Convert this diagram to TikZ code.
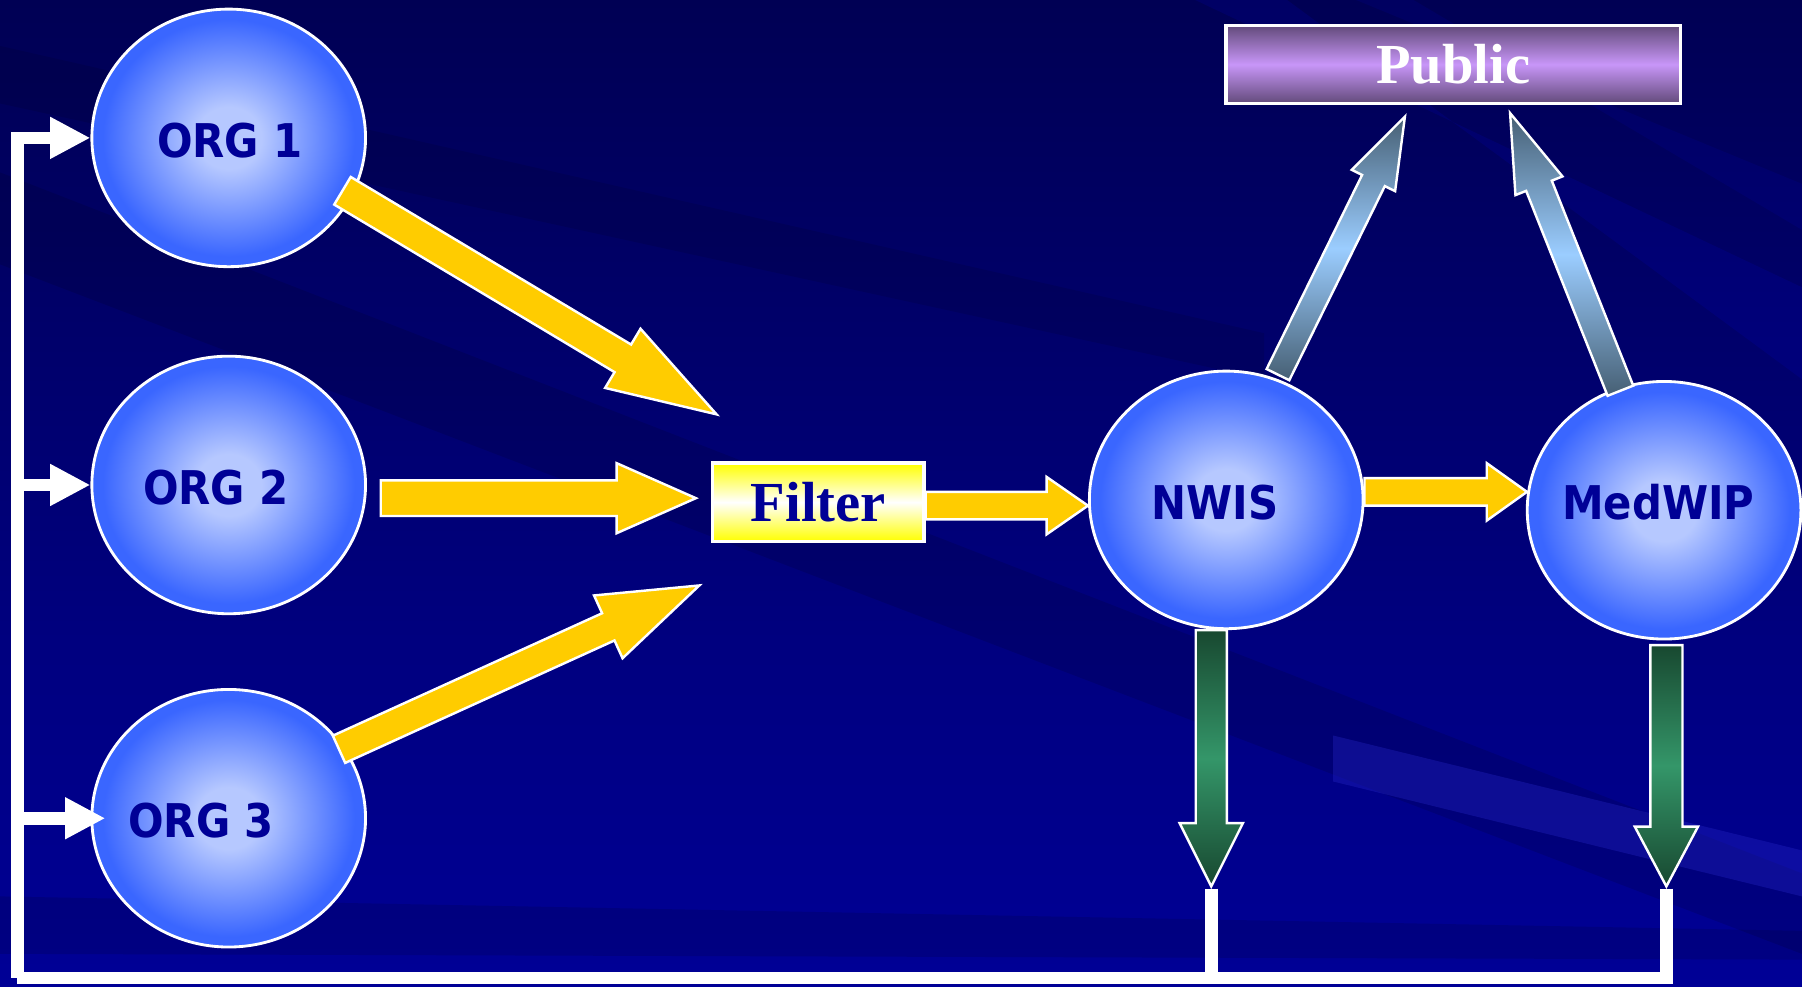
\documentclass[tikz,border=0pt]{standalone}
\usepackage{fontspec}
\setmainfont{Liberation Serif}
\newfontfamily\orgfont{DejaVu Sans Condensed}
\usetikzlibrary{calc,shapes.geometric,arrows.meta}
\definecolor{bgtop}{RGB}{0,0,84}
\definecolor{bgbot}{RGB}{0,0,150}
\definecolor{ballin}{RGB}{182,200,255}
\definecolor{ballout}{RGB}{58,102,255}
\definecolor{orgtxt}{RGB}{0,0,150}
\definecolor{ylw}{RGB}{255,204,0}
\definecolor{ylwbox}{RGB}{255,255,0}
\definecolor{pubdark}{RGB}{98,74,122}
\definecolor{publight}{RGB}{200,150,248}
\definecolor{slatedark}{RGB}{70,95,115}
\definecolor{slatelight}{RGB}{155,205,255}
\definecolor{grdark}{RGB}{24,72,48}
\definecolor{grlight}{RGB}{52,150,105}
\definecolor{bandlight}{RGB}{40,40,200}
\pgfdeclareradialshading{ball}{\pgfpoint{0bp}{0bp}}{color(0bp)=(ballin); color(6bp)=(ballin); color(23bp)=(ballout); color(50bp)=(ballout)}
\newcommand\blockarrow[6]{%
  \coordinate (ba-b) at ($(#3)!#6!(#2)$);
  \path[#1] ($(#2)!#4!90:(#3)$) -- ($(ba-b)!#4!-90:(#2)$) -- ($(ba-b)!#5!-90:(#2)$)
    -- (#3) -- ($(ba-b)!#5!90:(#2)$) -- ($(ba-b)!#4!90:(#2)$) -- ($(#2)!#4!-90:(#3)$) -- cycle;
}
\tikzset{
  org/.style={ellipse, draw=white, line width=0.7pt, shading=ball,
    minimum width=2.38cm, minimum height=2.24cm, inner sep=0pt},
  orgtext/.style={font=\orgfont\bfseries\fontsize{11.5}{14}\selectfont, text=orgtxt, inner sep=0pt},
  boxstyle/.style={draw=white, line width=0.8pt, inner sep=0pt,
    font=\bfseries\fontsize{14}{16}\selectfont},
  yarrow/.style={fill=ylw, draw=white, line width=0.6pt, line join=miter},
  sarrow/.style={draw=white, line width=0.6pt, line join=miter,
    top color=slatedark, bottom color=slatedark, middle color=slatelight},
  garrow/.style={draw=white, line width=0.6pt, line join=miter,
    top color=grdark, bottom color=grdark, middle color=grlight},
  wline/.style={draw=white, line width=0.11cm, line join=miter},
  whead/.style={-{Triangle[length=0.35cm,width=0.34cm]}}
}
\begin{document}
\begin{tikzpicture}[x=0.01cm, y=-0.01cm]
\useasboundingbox (0,0) rectangle (1568,858);
% background
\fill[top color=bgtop, bottom color=bgbot] (0,0) rectangle (1568,858);
\fill[black, opacity=0.12] (0,150) -- (0,230) -- (1568,830) -- (1568,760) -- cycle;
\fill[black, opacity=0.10] (0,40) -- (0,90) -- (1100,330) -- (1100,290) -- cycle;
\fill[blue, opacity=0.10] (1040,0) -- (1120,0) -- (1568,330) -- (1568,250) -- cycle;
\fill[blue, opacity=0.08] (1180,0) -- (1230,0) -- (1568,200) -- (1568,160) -- cycle;
\fill[bandlight, opacity=0.35] (1160,640) -- (1568,740) -- (1568,780) -- (1160,680) -- cycle;
\fill[black, opacity=0.12] (0,780) -- (1568,810) -- (1568,835) -- (0,830) -- cycle;

% circles
\node[org] (org1) at (199,120) {};
\node[orgtext] (org1t) at (200,122) {ORG 1};
\node[org] (org2) at (199,422) {};
\node[orgtext] (org2t) at (188,424) {ORG 2};
\node[org] (org3) at (199,712) {};
\node[orgtext] (org3t) at (175,714) {ORG 3};
\node[org] (nwis) at (1067,435) {};
\node[orgtext] (nwist) at (1057,437) {NWIS};
\node[org] (medwip) at (1448,444) {};
\node[orgtext] (medwipt) at (1443,437) {MedWIP};

% boxes
\node[boxstyle, top color=ylwbox, bottom color=ylwbox, middle color=white, text=orgtxt,
  minimum width=1.84cm, minimum height=0.68cm] (filter) at (712,437) {Filter};
\node[boxstyle, top color=pubdark, bottom color=pubdark, middle color=publight, text=white,
  minimum width=3.95cm, minimum height=0.68cm] (public) at (1264.5,56) {Public};

% yellow arrows
\coordinate (a1s) at ($(org1.center)+(99,46)$);
\coordinate (a1e) at ($(filter.north west)+(5,-41)$);
\blockarrow{yarrow}{a1s}{a1e}{0.14cm}{0.30cm}{0.95cm}
\coordinate (a2s) at ($(org2.east)+(12,11.5)$);
\coordinate (a2e) at ($(filter.west)+(-13,-3.5)$);
\blockarrow{yarrow}{a2s}{a2e}{0.155cm}{0.305cm}{0.69cm}
\coordinate (a3s) at ($(org3.center)+(96,-60)$);
\coordinate (a3e) at ($(filter.south west)+(-10,37)$);
\blockarrow{yarrow}{a3s}{a3e}{0.13cm}{0.30cm}{0.87cm}
\coordinate (a4s) at ($(filter.east)+(0,3)$);
\coordinate (a4e) at ($(nwis.west)+(0,5)$);
\blockarrow{yarrow}{a4s}{a4e}{0.12cm}{0.25cm}{0.36cm}
\coordinate (a5s) at ($(nwis.east)+(0,-7)$);
\coordinate (a5e) at ($(medwip.west)+(1,-16)$);
\blockarrow{yarrow}{a5s}{a5e}{0.12cm}{0.25cm}{0.35cm}

% slate arrows to Public
\coordinate (b1s) at ($(nwis.center)+(45,-109)$);
\coordinate (b1e) at ($(public.south)+(-42,10)$);
\blockarrow{sarrow}{b1s}{b1e}{0.11cm}{0.21cm}{0.62cm}
\coordinate (b2s) at ($(medwip.center)+(-38,-104)$);
\coordinate (b2e) at ($(public.south)+(49.5,7)$);
\blockarrow{sarrow}{b2s}{b2e}{0.12cm}{0.22cm}{0.68cm}

% green arrows
\coordinate (g1s) at ($(nwis.south)+(-13,0)$);
\coordinate (fb1) at ($(nwis.south)+(-13,223)$);
\blockarrow{garrow}{g1s}{fb1}{0.135cm}{0.275cm}{0.55cm}
\coordinate (g2s) at ($(medwip.south)+(2,4)$);
\coordinate (fb2) at ($(medwip.south)+(2,214)$);
\blockarrow{garrow}{g2s}{fb2}{0.14cm}{0.275cm}{0.52cm}

% white feedback lines
\coordinate (fb1l) at ($(fb1)+(0,2)$);
\coordinate (fb2l) at ($(fb2)+(0,2)$);
\coordinate (lc) at (15,851);
\draw[wline] (fb2l) |- (lc);
\draw[wline] (fb1l) -- (fb1l |- lc);
\draw[wline, whead] (lc) -- (lc |- org1.west) -- (org1.west);
\draw[wline, whead] (lc |- org2.west) -- (org2.west);
\draw[wline, whead] (lc |- org3.west) -- ($(org3.west)+(13,0)$);
\end{tikzpicture}
\end{document}
